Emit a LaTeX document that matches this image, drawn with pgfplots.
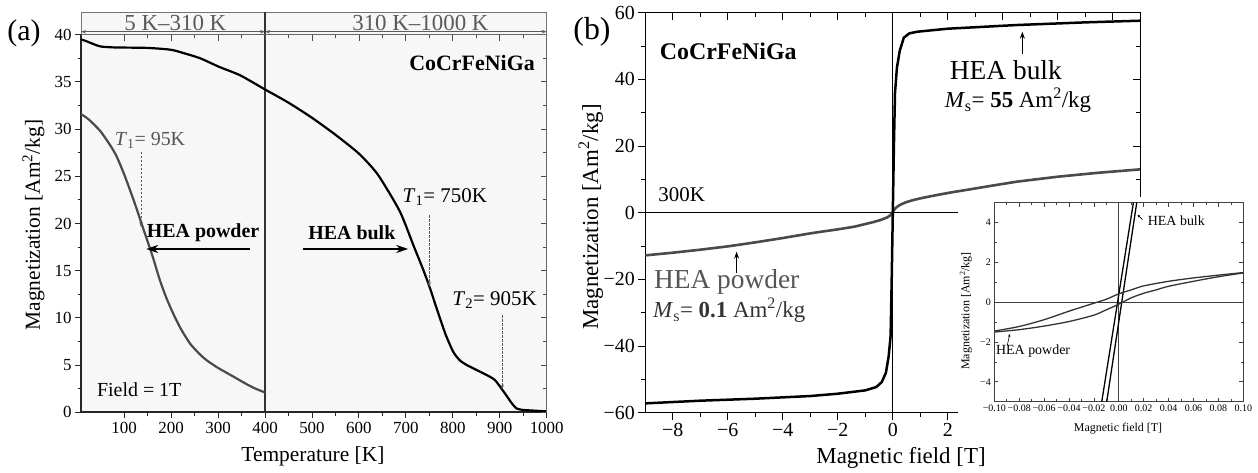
\documentclass[border=0pt]{standalone}
\usepackage{pgfplots}
\pgfplotsset{compat=1.18}
\usepackage{fontspec}
\setmainfont{Liberation Serif}
\usetikzlibrary{arrows.meta}
\definecolor{pgrey}{HTML}{4A4A4A}
\definecolor{tgrey}{HTML}{555555}
\definecolor{hgrey}{HTML}{5A5A5A}
\definecolor{bgfill}{HTML}{F7F7F7}
\newcommand{\fs}[1]{\fontsize{#1}{#1}\selectfont}
\newcommand{\Am}{Am\textsuperscript{2}/kg}
\pgfplotsset{/pgf/number format/1000 sep={}}
\tikzset{dasharrow/.style={dash pattern=on 2.5bp off 1.5bp, line width=0.85bp, black!65, -{Stealth[length=5bp,width=3.5bp]}}}
\begin{document}
\begin{tikzpicture}
\path[use as bounding box] (0bp,0bp) rectangle (1258bp,473bp);

%================ panel (a) =================
\begin{axis}[at={(81bp,60.7bp)}, anchor=south west, scale only axis,
  width=465.7bp, height=377.6bp,
  xmin=8, xmax=1000, ymin=0, ymax=40, clip=false,
  axis background/.style={fill=bgfill},
  xtick={100,200,...,1000}, ytick={0,5,...,40},
  minor x tick num=1, minor y tick num=1,
  xtick pos=bottom, ytick pos=left, tick align=outside,
  major tick length=6bp, minor tick length=3.5bp,
  tick style={black!85, line width=0.9bp},
  axis line style={black!60, line width=0.8bp},
  ticklabel style={font=\fs{17}, /pgf/number format/assume math mode=true},
  xlabel={Temperature [K]}, ylabel={Magnetization [\Am]},
  label style={font=\fs{21.5}},
  xlabel style={at={(axis description cs:0.498,-0.116)}, anchor=center},
  ylabel style={at={(axis description cs:-0.102,0.496)}, anchor=center},
]
% header band
\filldraw[fill=bgfill, draw=black!55, line width=0.8bp] (axis cs:8,40) rectangle (axis cs:1000,42.37);
\draw[hgrey, line width=0.8bp, {Stealth[length=5bp,width=3.5bp]}-{Stealth[length=5bp,width=3.5bp]}] (axis cs:8,40.32) -- (axis cs:400,40.32);
\draw[hgrey, line width=0.8bp, {Stealth[length=5bp,width=3.5bp]}-{Stealth[length=5bp,width=3.5bp]}] (axis cs:400,40.32) -- (axis cs:1000,40.32);
\node[anchor=base, font=\fs{23}, text=hgrey, inner sep=0] at (axis cs:209,40.48) {5 K--310 K};
\node[anchor=base, font=\fs{23}, text=hgrey, inner sep=0] at (axis cs:731,40.48) {310 K--1000 K};
% divider and thick axes
\draw[black!80, line width=1.2bp] (axis cs:400,0) -- (axis cs:400,42.37);
\draw[black!85, line width=2bp] (axis cs:8,0) -- (axis cs:8,40);
\draw[black!85, line width=2bp] (axis cs:8,0) -- (axis cs:1000,0);

% HEA bulk
\addplot[black, line width=2.2bp, smooth, tension=0.4] coordinates {
(8,39.5) (20,39.3) (35,39.0) (50,38.75) (80,38.65) (150,38.6) (200,38.4)
(230,38.0) (262,37.5) (302,36.6) (347,35.7) (400,34.2) (450,32.8) (500,31.2)
(550,29.4) (600,27.4) (640,25.2) (687,21.3) (716,17.7) (737,15.1) (751,13.2)
(769,10.5) (785,8.2) (801,6.4) (815,5.5) (830,5.0) (850,4.5) (872,3.95)
(890,3.4) (911,2.0) (925,1.0) (936,0.4) (950,0.25) (965,0.2) (1000,0.1)};
% HEA powder
\addplot[pgrey, line width=2.2bp, smooth, tension=0.4] coordinates {
(8,31.6) (25,31.0) (49,29.8) (70,28.3) (84,27.1) (100,25.2) (120,22.5)
(141,19.4) (160,16.6) (176,14.0) (190,12.1) (204,10.5) (220,8.9) (240,7.3)
(260,6.2) (276,5.5) (300,4.7) (332,3.8) (360,3.0) (380,2.5) (400,2.1)};

% annotations
\node[font=\fs{22}\bfseries] at (axis cs:841,37.0) {CoCrFeNiGa};
\node[font=\fs{20}, text=tgrey] at (axis cs:155,28.8) {\textit{T}\textsubscript{1}= 95K};
\draw[dasharrow] (axis cs:136,27.6) -- (axis cs:136,19.6);
\node[font=\fs{20}\bfseries] at (axis cs:268,19.0) {HEA powder};
\draw[black, line width=2.2bp, -{Stealth[length=12bp,width=8bp]}] (axis cs:368,17.3) -- (axis cs:147,17.3);
\node[font=\fs{20}\bfseries] at (axis cs:585,19.0) {HEA bulk};
\draw[black, line width=2.2bp, -{Stealth[length=12bp,width=8bp]}] (axis cs:481,17.3) -- (axis cs:705,17.3);
\node[font=\fs{21}] at (axis cs:783,22.8) {\textit{T}\textsubscript{1}= 750K};
\draw[dasharrow] (axis cs:750,20.9) -- (axis cs:750,13.3);
\node[font=\fs{21}] at (axis cs:889,11.9) {\textit{T}\textsubscript{2}= 905K};
\draw[dasharrow] (axis cs:905,10.3) -- (axis cs:905,2.4);
\node[font=\fs{20}] at (axis cs:132,2.4) {Field = 1T};
\end{axis}
% top/right inward ticks of (a)
\begin{axis}[at={(81bp,60.7bp)}, anchor=south west, scale only axis,
  width=465.7bp, height=377.6bp,
  xmin=8, xmax=1000, ymin=0, ymax=40,
  axis x line*=top, axis y line*=right,
  xtick={100,200,...,1000}, ytick={0,5,...,40},
  minor x tick num=1, minor y tick num=1,
  xticklabels={}, yticklabels={}, tick align=inside,
  major tick length=6bp, minor tick length=3.5bp,
  axis line style={-, black!60, line width=0.8bp},
  tick style={black!70, line width=0.8bp}]
\end{axis}
\node[font=\fs{30}] at (24bp,440bp) {(a)};

%================ panel (b) =================
\begin{axis}[at={(645.3bp,60.3bp)}, anchor=south west, scale only axis,
  width=495bp, height=400bp,
  xmin=-9, xmax=9, ymin=-60, ymax=60, clip=false,
  xtick={-8,-6,...,8}, xticklabels={−8,−6,−4,−2,0,2,,,},
  ytick={-60,-40,...,60}, yticklabels={−60,−40,−20,0,20,40,60},
  minor x tick num=1, minor y tick num=1,
  xtick pos=bottom, ytick pos=left, tick align=outside,
  major tick length=7bp, minor tick length=4bp,
  tick style={black, line width=0.9bp},
  axis line style={black, line width=1.2bp},
  ticklabel style={font=\fs{20}},
  xlabel={Magnetic field [T]}, ylabel={Magnetization [\Am]},
  label style={font=\fs{23}},
  xlabel style={at={(axis description cs:0.5166,-0.113)}, anchor=center},
  ylabel style={at={(axis description cs:-0.11,0.489)}, anchor=center},
]
\draw[black, line width=0.9bp] (axis cs:-9,0) -- (axis cs:9,0);
\draw[black, line width=0.9bp] (axis cs:0,-60) -- (axis cs:0,60);
% HEA powder
\addplot[pgrey, line width=2.6bp] coordinates {
(-9,-12.8) (-8,-12.0) (-7,-11.1) (-6,-10.1) (-5,-8.9) (-4,-7.6) (-3,-6.2)
(-2.6,-5.7) (-2,-5.0) (-1.4,-4.2) (-1,-3.4) (-0.7,-2.8) (-0.45,-2.2) (-0.2,-1.4)
(-0.08,-0.7) (0,0.3) (0.08,1.2) (0.16,1.8) (0.3,2.5) (0.5,3.2) (0.75,3.8) (1,4.3)
(1.6,5.3) (2.2,6.2) (2.8,7.0) (3.6,8.1) (4.5,9.3) (5.2,10.0) (6,10.8) (7.5,12.0) (9,13.0)};
% HEA bulk
\addplot[black, line width=2.5bp] coordinates {
(-9,-57.2) (-7,-56.4) (-5,-55.8) (-3,-55.0) (-2,-54.3) (-1,-53.3) (-0.6,-52.3)
(-0.4,-50.8) (-0.25,-48) (-0.15,-43) (-0.08,-37) (-0.04,-20) (0,0)
(0.04,20) (0.08,36) (0.15,43.5) (0.25,48.5) (0.4,52.5) (0.6,53.8) (0.9,54.3)
(2,55.2) (4.5,56.3) (7,57.1) (9,57.6)};
% annotations
\node[font=\fs{24}\bfseries, anchor=west] at (axis cs:-8.6,48.3) {CoCrFeNiGa};
\node[font=\fs{21}, anchor=west] at (axis cs:-8.65,5.3) {300K};
\node[font=\fs{27.5}] at (axis cs:4.11,42.8) {HEA bulk};
\node[font=\fs{23}] at (axis cs:4.55,33.8) {\textit{M}\textsubscript{s}= \textbf{55} \Am};
\draw[black, line width=1.3bp, -{Stealth[length=7bp,width=5bp]}] (axis cs:4.71,47.5) -- (axis cs:4.71,54.3);
\node[font=\fs{27.5}, text=tgrey] at (axis cs:-6.04,-20.7) {HEA powder};
\node[font=\fs{23}, text=black!80] at (axis cs:-5.95,-29.2) {\textit{M}\textsubscript{s}= \textbf{0.1} \Am};
\draw[black, line width=1.3bp, -{Stealth[length=7bp,width=5bp]}] (axis cs:-5.68,-18.2) -- (axis cs:-5.68,-11.7);
\end{axis}
\begin{axis}[at={(645.3bp,60.3bp)}, anchor=south west, scale only axis,
  width=495bp, height=400bp,
  xmin=-9, xmax=9, ymin=-60, ymax=60,
  axis x line*=top, axis y line*=right,
  xtick={-8,-6,...,8}, ytick={-60,-40,...,60},
  minor x tick num=1, minor y tick num=1,
  xticklabels={}, yticklabels={}, tick align=inside,
  major tick length=7bp, minor tick length=4bp,
  axis line style={-, black, line width=1.2bp},
  tick style={black, line width=0.9bp}]
\end{axis}
\node[font=\fs{32}] at (592bp,441bp) {(b)};

% inset cover
\fill[white] (958bp,35bp) rectangle (1258bp,276bp);

%================ inset =================
\begin{axis}[at={(994.3bp,71.3bp)}, anchor=south west, scale only axis,
  width=249bp, height=199bp,
  xmin=-0.1, xmax=0.1, ymin=-5, ymax=5, clip=false,
  axis background/.style={fill=white},
  xtick={-0.1,-0.08,-0.06,-0.04,-0.02,0,0.02,0.04,0.06,0.08,0.1},
  xticklabels={−0.10,−0.08,−0.06,−0.04,−0.02,0.00,0.02,0.04,0.06,0.08,0.10},
  ytick={-4,-2,0,2,4}, yticklabels={−4,−2,0,2,4},
  minor x tick num=1, minor y tick num=1, tick align=inside,
  major tick length=4bp, minor tick length=2.5bp,
  tick style={black!75, line width=0.7bp},
  axis line style={black!75, line width=0.8bp},
  ticklabel style={font=\fs{10}},
  xticklabel style={inner xsep=0pt},
  xlabel={Magnetic field [T]}, ylabel={Magnetization [\Am]},
  label style={font=\fs{12}},
  xlabel style={at={(axis description cs:0.497,-0.137)}, anchor=center},
  ylabel style={at={(axis description cs:-0.114,0.456)}, anchor=center},
]
\draw[black!75, line width=0.8bp] (axis cs:-0.1,0) -- (axis cs:0.1,0);
\draw[black!75, line width=0.8bp] (axis cs:0,-5) -- (axis cs:0,5);
% bulk branches
\addplot[black, line width=1.3bp] coordinates {(-0.0137,-5) (0.0117,5)};
\addplot[black, line width=1.3bp] coordinates {(-0.0097,-5) (0.0144,5)};
% powder branches
\addplot[black!80, line width=1.3bp, smooth] coordinates {
(-0.1,-1.45) (-0.08,-1.22) (-0.06,-0.88) (-0.04,-0.45) (-0.03,-0.25) (-0.02,-0.05)
(-0.01,0.15) (0,0.42) (0.01,0.62) (0.02,0.82) (0.04,1.05) (0.06,1.22) (0.08,1.36) (0.1,1.49)};
\addplot[black!80, line width=1.3bp, smooth] coordinates {
(-0.1,-1.5) (-0.08,-1.38) (-0.06,-1.2) (-0.04,-0.97) (-0.02,-0.65) (-0.01,-0.38)
(0,-0.1) (0.01,0.22) (0.02,0.45) (0.03,0.62) (0.04,0.8) (0.06,1.05) (0.08,1.28) (0.1,1.47)};
\node[font=\fs{14}, anchor=west, inner sep=1bp] at (axis cs:0.0224,4.1) {HEA bulk};
\draw[black, line width=0.6bp, -{Stealth[length=3bp,width=2.5bp]}] (axis cs:0.0190,4.15) -- (axis cs:0.0150,4.40);
\node[font=\fs{14}, anchor=west, inner sep=1bp] at (axis cs:-0.0995,-2.47) {HEA powder};
\draw[black, line width=0.6bp, -{Stealth[length=3bp,width=2.5bp]}] (axis cs:-0.0895,-2.15) -- (axis cs:-0.0876,-1.6);
\end{axis}
\end{tikzpicture}
\end{document}
